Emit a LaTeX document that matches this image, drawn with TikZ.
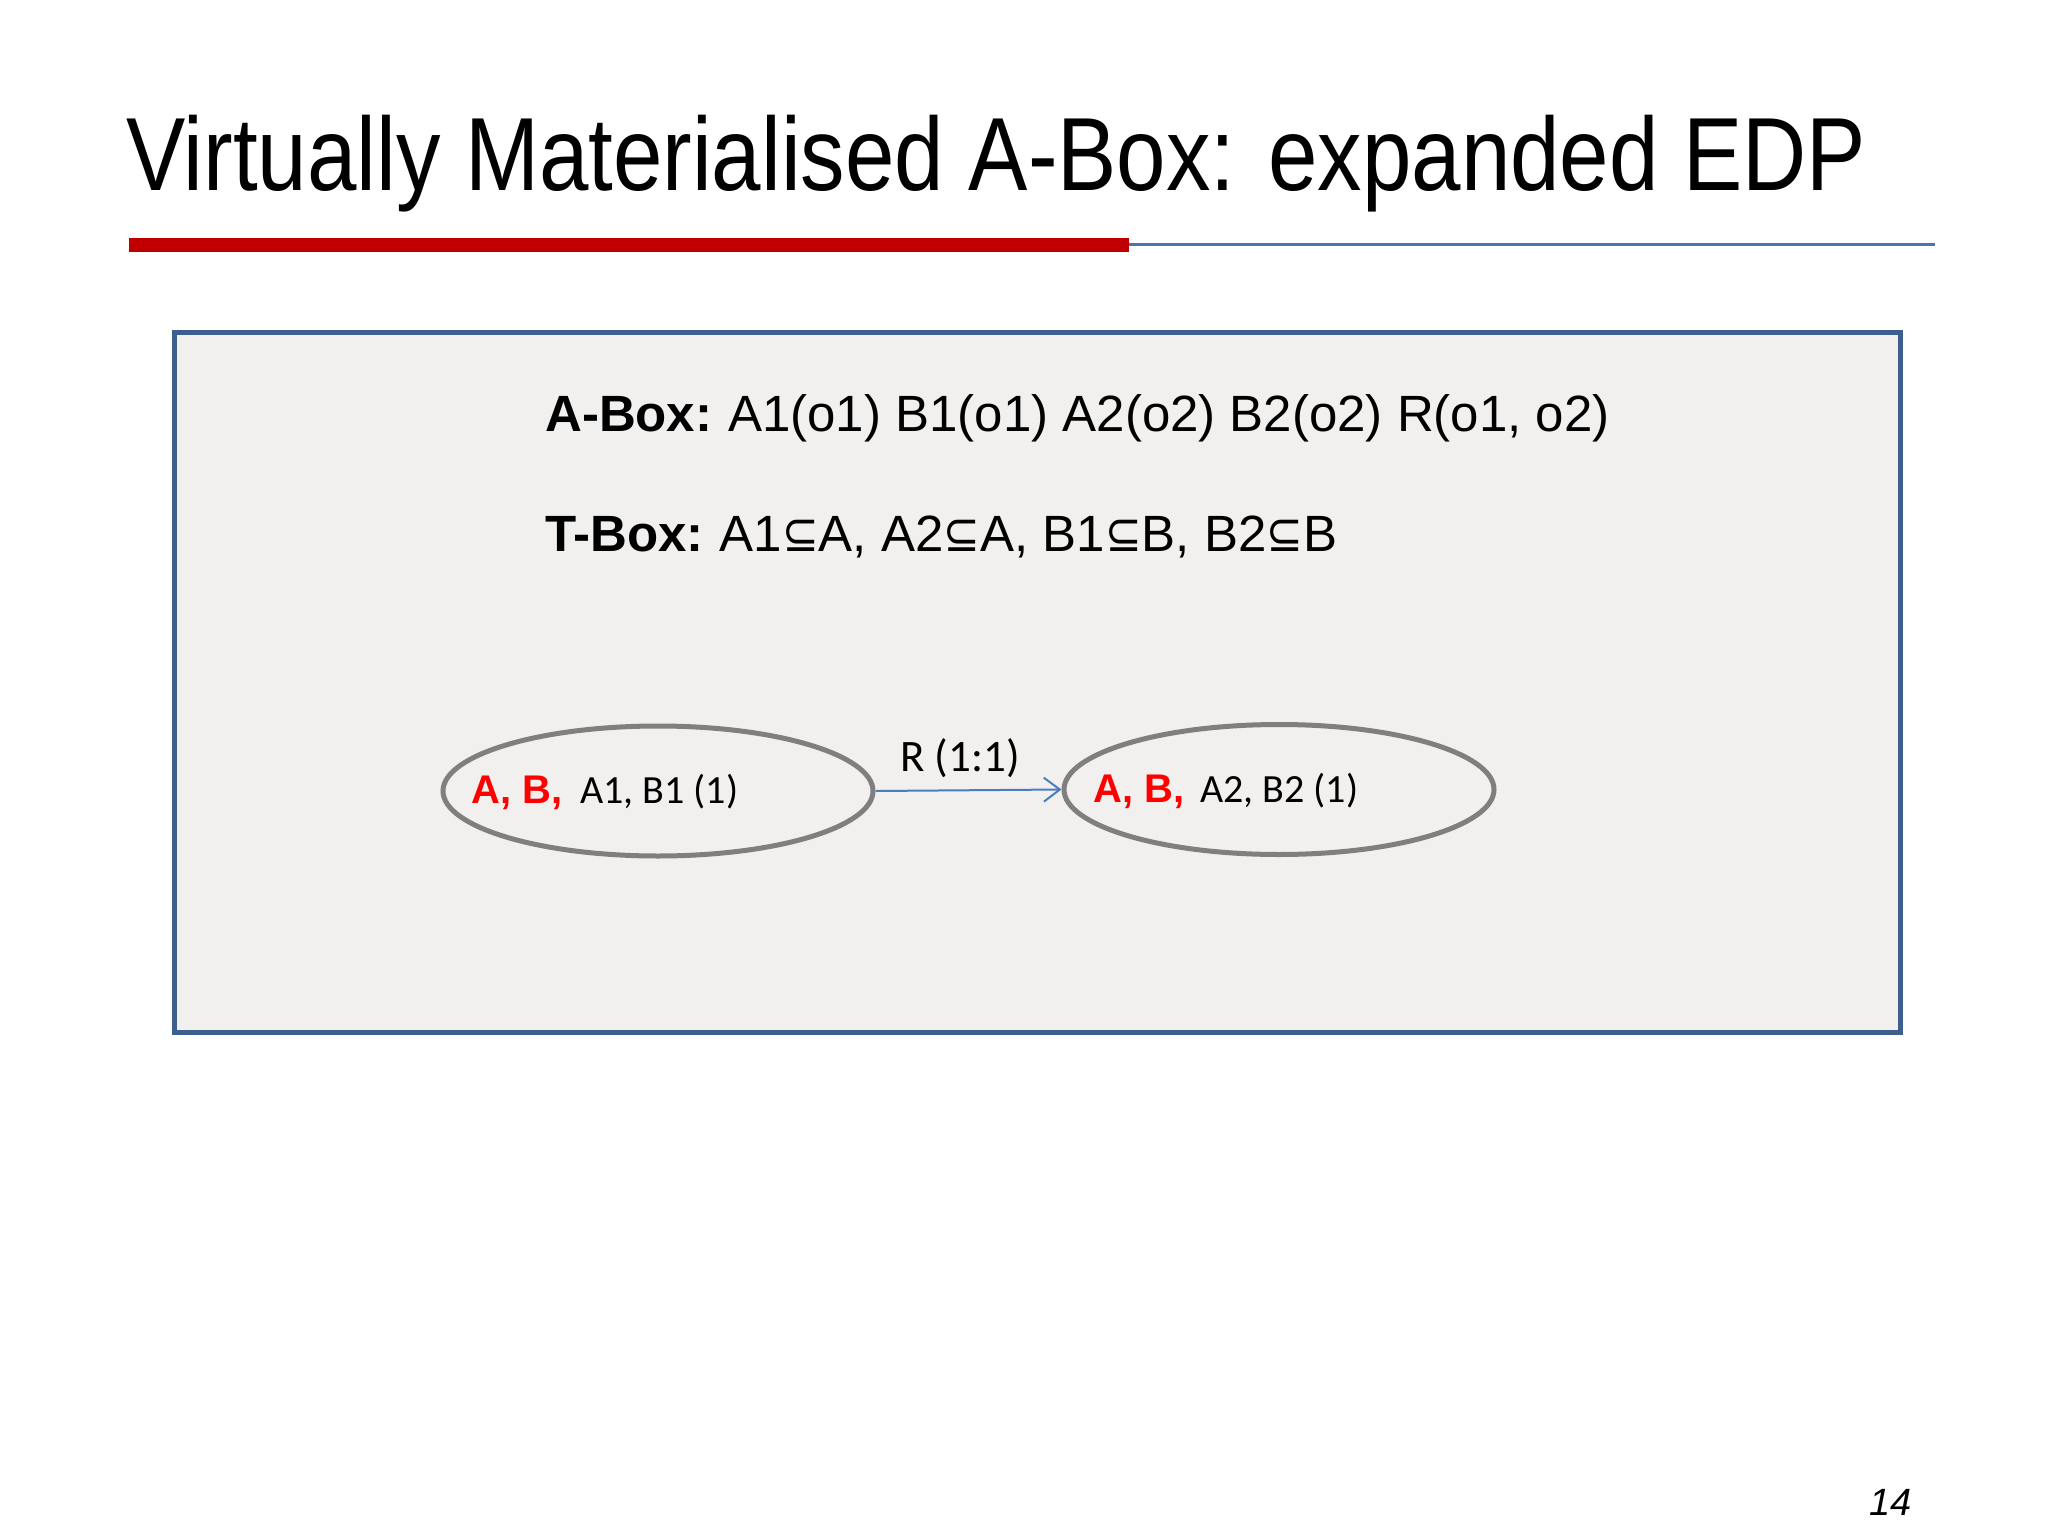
\documentclass[tikz,border=0pt]{standalone}
\usepackage{fontspec}
\usepackage{graphicx}
\usetikzlibrary{shapes.geometric,arrows.meta}
\setmainfont{Liberation Sans}
\newfontfamily\calib{Carlito}
\newfontfamily\djv{DejaVu Sans}
\definecolor{barred}{HTML}{C00000}
\definecolor{lineblue}{HTML}{4F74A8}
\definecolor{boxblue}{HTML}{3C5F8E}
\definecolor{boxfill}{HTML}{F1F0EF}
\definecolor{ellgray}{HTML}{7F7F7F}
\definecolor{arrblue}{HTML}{4A7EBB}
\definecolor{txtred}{HTML}{FF0000}
\tikzset{
  ellnode/.style={draw=ellgray, line width=5pt, ellipse, minimum width=430pt, minimum height=130pt, inner sep=0pt},
  txt/.style={inner sep=0pt, anchor=base west},
  rel/.style={draw=arrblue, line width=2pt, -{Straight Barb[length=16pt,width=24pt,line width=2pt]}}
}
\newcommand{\sbs}{\scalebox{0.86}[1]{\djv ⊆}}
\begin{document}
\begin{tikzpicture}[x=1pt,y=-1pt]
\useasboundingbox (0,0) rectangle (2048,1536);
\fill[white] (0,0) rectangle (2048,1536);
% title
\node[txt] (title) at (126,190) {\fontsize{104}{120}\selectfont\resizebox{1740pt}{\height}{Virtually Materialised A-Box: expanded EDP}};
\fill[barred] (129,238) rectangle (1129,252);
\draw[lineblue, line width=2.5pt] (1129,244.5) -- (1935,244.5);
% main box
\draw[boxblue, line width=5pt, fill=boxfill] (174,332) rectangle (1900,1032);
\node[txt] (abox) at (545,431) {\fontsize{51}{60}\selectfont\textbf{A-Box:}\hspace{-3pt} A1(o1) B1(o1) A2(o2) B2(o2) R(o1, o2)};
\node[txt] (tbox) at (545,551) {\fontsize{51}{60}\selectfont\textbf{T-Box:}\hspace{-3pt} A1\sbs A, A2\sbs A, B1\sbs B, B2\sbs B};
% ellipses
\node[ellnode] (e1) at (658,791) {};
\node[ellnode] (e2) at (1279,789.5) {};
\node[txt] (l1a) at (471,803) {\fontsize{40}{48}\selectfont\color{txtred}\textbf{A, B,}};
\node[txt] (l1b) at (580,803) {\fontsize{40}{48}\selectfont\calib A1, B1 (1)};
\node[txt] (l2a) at (1093,802) {\fontsize{40}{48}\selectfont\color{txtred}\textbf{A, B,}};
\node[txt] (l2b) at (1200,802) {\fontsize{40}{48}\selectfont\calib A2, B2 (1)};
\draw[rel] (e1.east) -- (e2.west);
\node[txt] (rlab) at (900,771) {\fontsize{45}{54}\selectfont\calib R (1:1)};
% page number
\node[txt] (pnum) at (1869,1515) {\fontsize{38}{44}\selectfont\itshape 14};
\end{tikzpicture}
\end{document}
